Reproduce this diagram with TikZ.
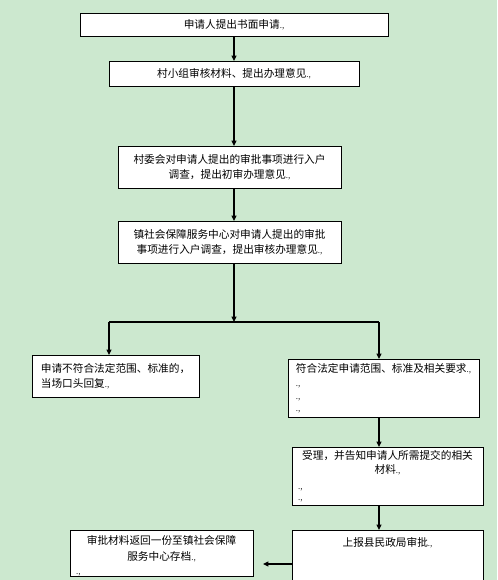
\documentclass[tikz,border=0pt]{standalone}
\usepackage{fontspec}
\setmainfont{Noto Sans CJK SC}
\usepackage{xcolor}
\usetikzlibrary{arrows.meta,positioning,calc}
\definecolor{paper}{HTML}{CCE8CF}
\definecolor{ink}{HTML}{000000}
\newcommand{\pmk}{{\fontsize{6pt}{6pt}\selectfont\color{black!85}.,}}

\begin{document}
\begin{tikzpicture}[
  x=0.75pt, y=-0.75pt,
  font=\fontsize{8pt}{11.5pt}\selectfont,
  >={Triangle[length=4pt,width=3.6pt]},
  box/.style={draw=ink, line width=0.7pt, fill=white, inner sep=3pt, align=center, anchor=north},
  flow/.style={->, line width=0.8pt, draw=ink},
]
% page
\fill[paper] (0,0) rectangle (497,580);
\clip (0,0) rectangle (497,580);

% main column
\node[box, minimum width=231pt, minimum height=17.25pt] (apply) at (234,13) {申请人提出书面申请\pmk};
\node[box, minimum width=187.5pt, minimum height=18.75pt] (group) at (234,61) {村小组审核材料、提出办理意见\pmk};
\node[box, minimum width=167.25pt, minimum height=31.5pt] (village) at (229.5,146) {村委会对申请人提出的审批事项进行入户\\调查，提出初审办理意见\pmk};
\node[box, minimum width=167.25pt, minimum height=31.5pt] (town) at (229.5,221) {镇社会保障服务中心对申请人提出的审批\\事项进行入户调查，提出审核办理意见\pmk};
\draw[flow] (apply) -- (group);
\draw[flow] (group) -- (group |- village.north);
\draw[flow] (group |- village.south) -- (group |- town.north);

% split into two branches
\coordinate (split) at (234,322);
\coordinate (lft) at (109,322);
\coordinate (rgt) at (379,322);
\draw[flow] (split |- town.south) -- (split);
\draw[line width=0.8pt, draw=ink] (lft) -- (rgt);

\node[box, align=left, minimum width=125.25pt, minimum height=31.5pt] (reject) at (115.5,355) {申请不符合法定范围、标准的，\\当场口头回复\pmk};
\node[box, align=left, minimum width=143.25pt, minimum height=43.5pt, inner ysep=2pt] (meet) at (383.5,359) {符合法定申请范围、标准及相关要求\pmk\\[-1pt]\pmk\\[-2pt]\pmk\\[-2pt]\pmk};
\draw[flow] (lft) -- (lft |- reject.north);
\draw[flow] (rgt) -- (rgt |- meet.north);

% right branch
\node[box, text width=134pt, minimum width=143.25pt, minimum height=43.5pt, inner ysep=2pt] (accept) at (387.5,447) {受理，并告知申请人所需提交的相关\\[-1pt]材料\pmk\\[0pt]\pmk\hfill\null\\[-3pt]\pmk\hfill\null};
\node[box, minimum width=143.25pt, text depth=45pt, inner ysep=5pt] (report) at (387.5,530) {上报县民政局审批\pmk};
\node[box, text width=128pt, minimum width=137.25pt, text depth=20pt, inner ysep=4pt] (archive) at (161.5,530) {审批材料返回一份至镇社会保障\\服务中心存档\pmk\\[-1pt]\pmk\hfill\null};
\draw[flow] (rgt |- meet.south) -- (rgt |- accept.north);
\draw[flow] (rgt |- accept.south) -- (rgt |- report.north);
\coordinate (back) at (263,564);
\draw[flow] (back -| report.west) -- (back);
\end{tikzpicture}
\end{document}
